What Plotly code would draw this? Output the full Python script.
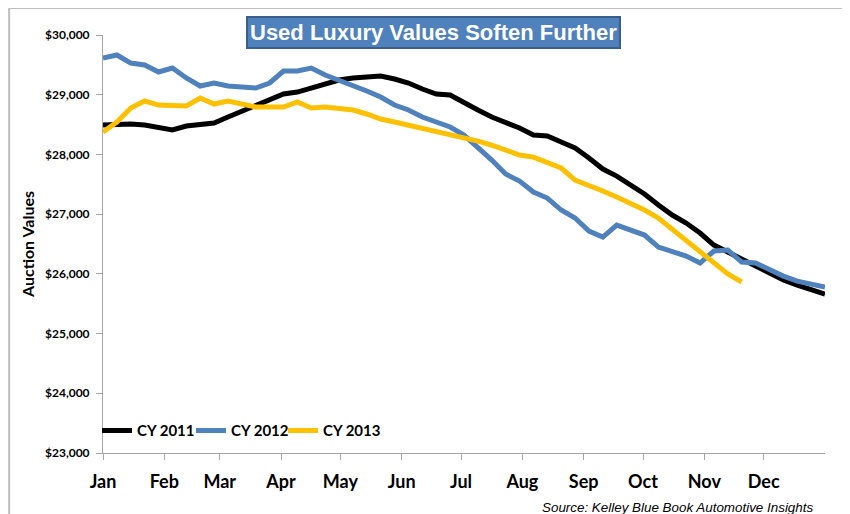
import plotly.graph_objects as go

# ---- data (weekly auction values) ----
cy2011 = [28492, 28509, 28509, 28492, 28459, 28409, 28476, 28509, 28526, 28626,
          28727, 28827, 28928, 29012, 29045, 29112, 29179, 29246, 29280, 29296,
          29313, 29263, 29196, 29095, 29012, 28995, 28861, 28744, 28626, 28543,
          28442, 28325, 28308, 28208, 28107, 27940, 27755, 27638, 27487, 27337,
          27152, 26985, 26851, 26683, 26482, 26365, 26248, 26114, 25997, 25896,
          25812, 25745, 25662]
cy2012 = [29615, 29665, 29530, 29497, 29380, 29447, 29280, 29146, 29196, 29146,
          29129, 29112, 29196, 29397, 29397, 29447, 29330, 29246, 29162, 29062,
          28961, 28827, 28744, 28626, 28543, 28459, 28325, 28124, 27906, 27672,
          27554, 27370, 27270, 27069, 26935, 26717, 26616, 26817, 26734, 26650,
          26449, 26382, 26298, 26181, 26382, 26399, 26198, 26181, 26064, 25963,
          25879, 25829, 25779]
cy2013 = [28375, 28543, 28777, 28894, 28827, 28827, 28811, 28945, 28844, 28894,
          28844, 28794, 28794, 28794, 28878, 28777, 28794, 28777, 28744, 28677,
          28593, 28543, 28492, 28425, 28392, 28342, 28275, 28224, 28157, 28074,
          27990, 27956, 27873, 27772, 27571, 27487, 27387, 27286, 27186, 27069,
          26935, 26750, 26566, 26382, 26198, 25997, 25863]

months = ["Jan", "Feb", "Mar", "Apr", "May", "Jun", "Jul", "Aug", "Sep", "Oct", "Nov", "Dec"]
month_start_days = [0, 31, 59, 90, 120, 151, 181, 212, 243, 273, 304, 334]
y_ticks = [23000, 24000, 25000, 26000, 27000, 28000, 29000, 30000]
y_tick_labels = ["$23,000", "$24,000", "$25,000", "$26,000", "$27,000", "$28,000", "$29,000", "$30,000"]

series = [("CY 2011", cy2011, "#000000"),
          ("CY 2012", cy2012, "#4F81BD"),
          ("CY 2013", cy2013, "#FFC000")]

legend_ids = ["legend", "legend2", "legend3"]
legend_x = [-0.0083, 0.1219, 0.2493]

n_weeks = 52
fig = go.Figure()
for (name, vals, color), lid in zip(series, legend_ids):
    fig.add_trace(go.Scatter(
        x=list(range(len(vals))), y=vals, name=name, mode="lines",
        line=dict(color=color, width=5), legend=lid))

tickvals_x = [d * n_weeks / 365 for d in month_start_days]

legend_font = dict(family="Lato, Arial, sans-serif", size=15, weight="bold")
legend_layout = {}
for lid, lx in zip(legend_ids, legend_x):
    legend_layout[lid] = dict(orientation="h", x=lx, y=0.053, xanchor="left", yanchor="middle",
                              bgcolor="rgba(0,0,0,0)", itemwidth=30, font=legend_font)

fig.update_layout(
    width=842, height=506,
    margin=dict(l=95, r=25, t=27, b=61),
    paper_bgcolor="white", plot_bgcolor="white",
    font=dict(family="Lato, Arial, sans-serif", color="#000000"),
    showlegend=True,
    **legend_layout,
    xaxis=dict(range=[0, n_weeks], tickvals=tickvals_x, ticktext=months,
               showgrid=False, zeroline=False, showline=True, linecolor="#A6A6A6",
               linewidth=1, ticks="outside", ticklen=6, tickcolor="#A6A6A6",
               tickfont=dict(family="Lato, Arial, sans-serif", size=18, weight="bold"),
               ticklabelstandoff=6),
    yaxis=dict(range=[23000, 30000], tickvals=y_ticks, ticktext=y_tick_labels,
               showgrid=False, zeroline=False, showline=True, linecolor="#A6A6A6",
               linewidth=1, ticks="outside", ticklen=6, tickcolor="#A6A6A6",
               tickfont=dict(family="Lato, Arial, sans-serif", size=12, weight="bold"),
               ticklabelstandoff=4,
               title=dict(text="Auction Values", standoff=6,
                          font=dict(family="Lato, Arial, sans-serif", size=16, weight="bold"))),
)

# Title box
fig.add_annotation(
    text="Used Luxury Values Soften Further", xref="paper", yref="paper",
    x=0.458, y=1.007, xanchor="center", yanchor="middle", showarrow=False,
    font=dict(family="Liberation Sans", size=22, color="white", weight="bold"),
    bgcolor="#4F81BD", bordercolor="#3A5F8C", borderwidth=2, borderpad=2)

# Source note
fig.add_annotation(
    text="Source: Kelley Blue Book Automotive Insights", xref="paper", yref="paper",
    x=0.986, y=-0.131, xanchor="right", yanchor="middle", showarrow=False,
    font=dict(family="Liberation Sans", size=13.4, color="#000000", style="italic"))

# Outer frame (top and left edges visible)
fig.add_shape(type="line", xref="paper", yref="paper", x0=-0.13, x1=1.2, y0=1.0646, y1=1.0646,
              line=dict(color="#BFBFBF", width=2))
fig.add_shape(type="line", xref="paper", yref="paper", x0=-0.13, x1=-0.13, y0=1.0646, y1=-0.3,
              line=dict(color="#BFBFBF", width=2))

fig.write_html("out.html")
